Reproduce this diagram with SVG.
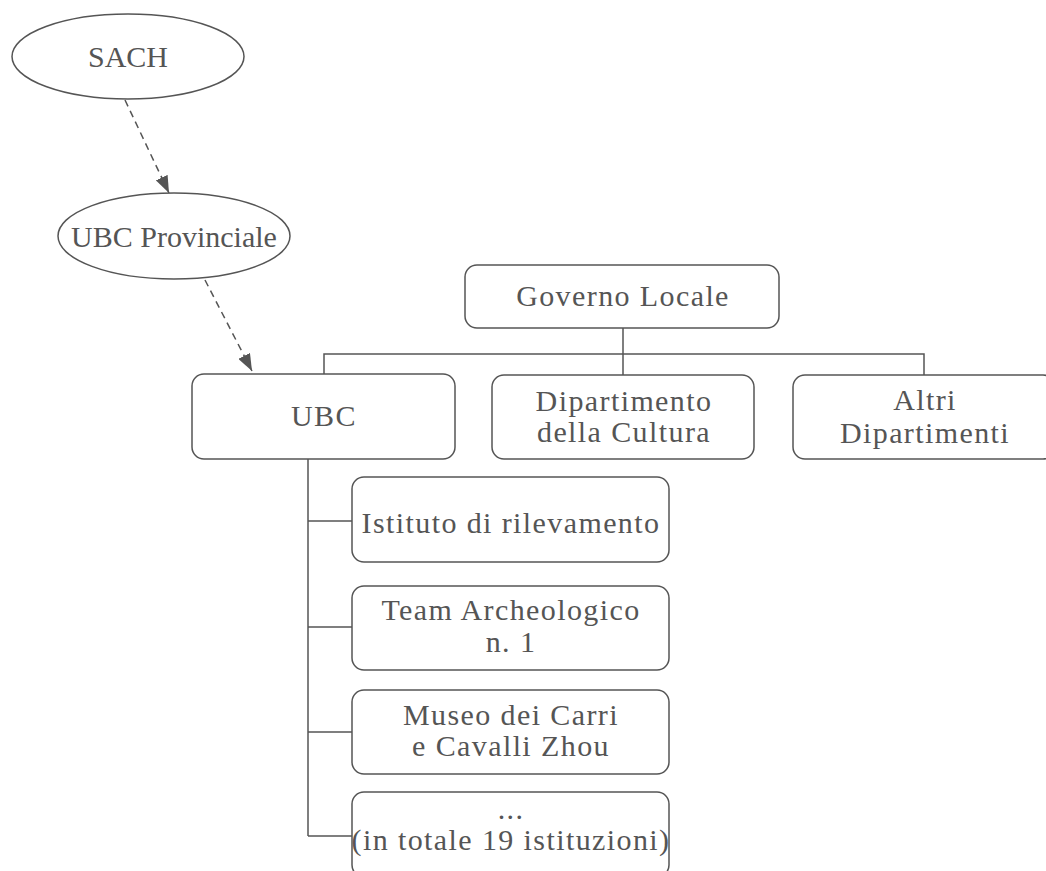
<svg xmlns="http://www.w3.org/2000/svg" width="1046" height="871" viewBox="0 0 1046 871">
<defs>
<style>
.n{fill:#fff;stroke:#555;stroke-width:1.5}
.t{font-family:'Liberation Serif','Times New Roman',serif;font-size:30px;fill:#555;text-anchor:middle}
.s{letter-spacing:1.4px}
.c{fill:none;stroke:#555;stroke-width:1.5}
.d{fill:none;stroke:#555;stroke-width:1.5;stroke-dasharray:7,5}
</style>
<marker id="ah" viewBox="0 0 17 13" refX="17" refY="6.5" markerWidth="17" markerHeight="13" markerUnits="userSpaceOnUse" orient="auto">
<path d="M0,0 L17,6.5 L0,13 z" fill="#555"/>
</marker>
</defs>
<rect width="1046" height="871" fill="#fff"/>
<g id="connectors">
<path class="d" d="M125,100 L169,193" marker-end="url(#ah)"/>
<path class="d" d="M205,280 L252,371" marker-end="url(#ah)"/>
<path class="c" d="M623,328 V375 M324,374 V354 H924 V375"/>
<path class="c" d="M308,459 V836 M308,521 H352 M308,627 H352 M308,732 H352 M308,836 H352"/>
</g>
<g id="sach">
<ellipse class="n" cx="128" cy="56.5" rx="116" ry="42.5"/>
<text class="t" x="128" y="67">SACH</text>
</g>
<g id="ubc-provinciale">
<ellipse class="n" cx="174" cy="236" rx="116" ry="43"/>
<text class="t" x="174" y="247">UBC Provinciale</text>
</g>
<g id="governo">
<rect class="n" x="465" y="265" width="314" height="63" rx="12"/>
<text class="t s" x="623" y="306">Governo Locale</text>
</g>
<g id="ubc">
<rect class="n" x="192" y="374" width="263" height="85" rx="12"/>
<text class="t s" x="324" y="426">UBC</text>
</g>
<g id="dipartimento">
<rect class="n" x="492" y="375" width="262" height="84" rx="12"/>
<text class="t s" x="624" y="411">Dipartimento</text>
<text class="t s" x="624" y="442">della Cultura</text>
</g>
<g id="altri">
<rect class="n" x="793" y="375" width="262" height="84" rx="12"/>
<text class="t s" x="925" y="410">Altri</text>
<text class="t s" x="925" y="443">Dipartimenti</text>
</g>
<g id="istituto">
<rect class="n" x="352" y="477" width="317" height="85" rx="12"/>
<text class="t s" x="511" y="533">Istituto di rilevamento</text>
</g>
<g id="team">
<rect class="n" x="352" y="586" width="317" height="84" rx="12"/>
<text class="t s" x="511" y="620">Team Archeologico</text>
<text class="t s" x="511" y="652">n. 1</text>
</g>
<g id="museo">
<rect class="n" x="352" y="690" width="317" height="84" rx="12"/>
<text class="t s" x="511" y="725">Museo dei Carri</text>
<text class="t s" x="511" y="756">e Cavalli Zhou</text>
</g>
<g id="altre">
<rect class="n" x="352" y="792" width="317" height="85" rx="12"/>
<text class="t s" x="511" y="819">...</text>
<text class="t s" x="511" y="850">(in totale 19 istituzioni)</text>
</g>
</svg>
